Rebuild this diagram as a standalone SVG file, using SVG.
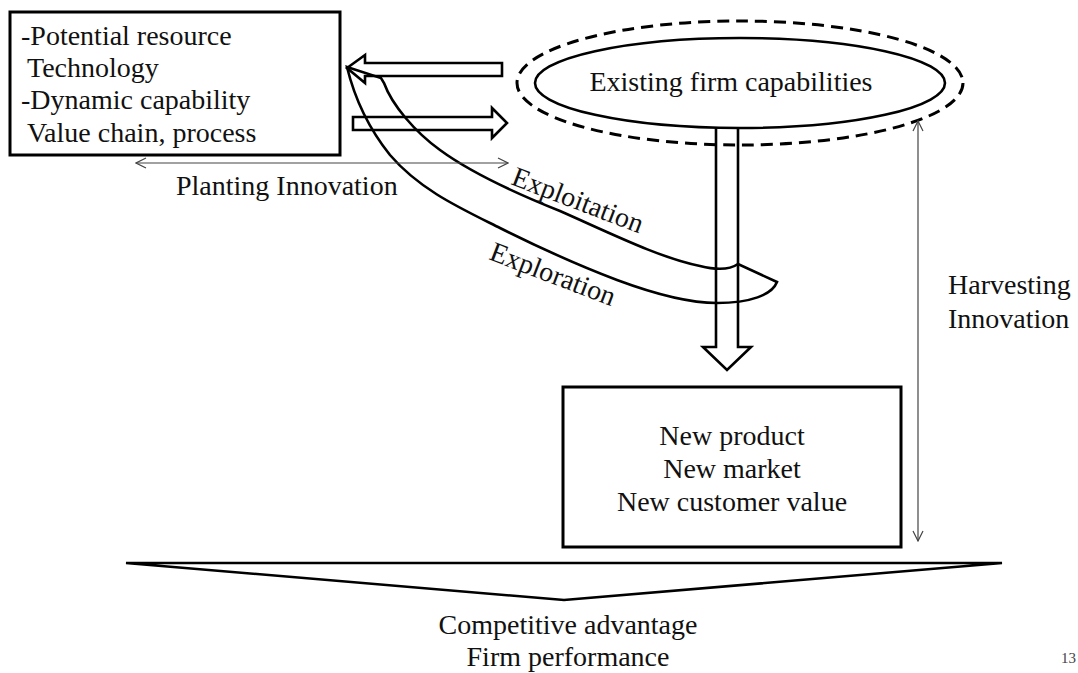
<svg xmlns="http://www.w3.org/2000/svg" width="1078" height="673" viewBox="0 0 1078 673">
<style>
  text { font-family: "Liberation Serif", "Times New Roman", serif; font-size: 28px; fill: #111; }
  .box { fill: #fff; stroke: #000; stroke-width: 3; }
  .shape { fill: none; stroke: #000; stroke-width: 2.6; stroke-linejoin: miter; }
  .thin { fill: none; stroke: #444; stroke-width: 1.2; }
</style>
<defs>
  <marker id="open" viewBox="0 0 12 12" refX="11" refY="6" markerWidth="12" markerHeight="12" markerUnits="userSpaceOnUse" orient="auto-start-reverse">
    <path d="M1,1 L11,6 L1,11" fill="none" stroke="#444" stroke-width="1.2"/>
  </marker>
</defs>
<rect width="1078" height="673" fill="#fff"/>

<g id="node-resources">
  <rect class="box" x="10" y="12" width="330" height="143"/>
  <text x="21" y="45">-Potential resource</text>
  <text x="27" y="77">Technology</text>
  <text x="21" y="109">-Dynamic capability</text>
  <text x="27" y="142">Value chain, process</text>
</g>

<g id="node-existing">
  <ellipse cx="740" cy="83" rx="223" ry="62" fill="none" stroke="#000" stroke-width="3" stroke-dasharray="12 7"/>
  <ellipse cx="740" cy="83" rx="205" ry="45" fill="#fff" stroke="#000" stroke-width="2.6"/>
  <text x="731" y="91" text-anchor="middle">Existing firm capabilities</text>
</g>

<g id="node-new">
  <rect class="box" x="563" y="387" width="338" height="160"/>
  <text x="732" y="445" text-anchor="middle">New product</text>
  <text x="732" y="478" text-anchor="middle">New market</text>
  <text x="732" y="511" text-anchor="middle">New customer value</text>
</g>

<g id="node-outcome">
  <polygon class="shape" points="126,563 1002,563 564,600" stroke-width="3"/>
  <text x="568" y="634" text-anchor="middle">Competitive advantage</text>
  <text x="568" y="666" text-anchor="middle">Firm performance</text>
</g>

<g id="connectors">
  <path id="arrow-to-resources" class="shape" d="M502,63 H365 V55 L347,68 L365,83 V76 H502 Z"/>
  <path id="arrow-to-existing" class="shape" d="M353,117 H492 V108 L507,123 L492,138 V130 H353 Z"/>
  <path id="arrow-down" class="shape" d="M716,127 V347 H703 L727,370 L751,347 H738 V127"/>
  <path id="curved-arrow" class="shape" d="M347,67 L381,78 L384,83 C392,105 415,132 440,150 C470,172 520,195 560,211 C610,233 660,258 700,266 C712,269 728,271 738,264 L777,282 C772,295 750,303 717,303 C690,303 660,296 617,280 C580,266 530,243 500,228 C460,208 420,190 390,155 C370,130 355,100 347,67 Z"/>
  <line id="planting" class="thin" x1="136" y1="163" x2="508" y2="163" marker-start="url(#open)" marker-end="url(#open)"/>
  <line id="harvesting" class="thin" x1="918" y1="121" x2="918" y2="541" marker-start="url(#open)" marker-end="url(#open)"/>
</g>

<g id="labels">
  <text x="176" y="195">Planting Innovation</text>
  <text x="510" y="184" transform="rotate(21 510 184)">Exploitation</text>
  <text x="488" y="259" transform="rotate(21 488 259)">Exploration</text>
  <text x="948" y="294">Harvesting</text>
  <text x="948" y="328">Innovation</text>
  <text x="1061" y="663" style="font-size:15px; fill:#444">13</text>
</g>
</svg>
